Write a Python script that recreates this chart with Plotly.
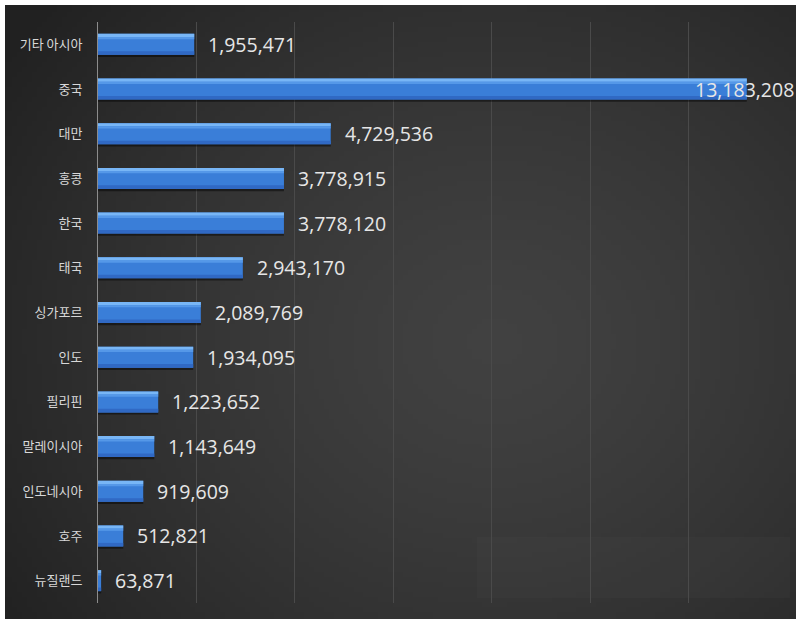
import base64, struct, zlib, math
import plotly.graph_objects as go

categories = ["기타 아시아", "중국", "대만", "홍콩", "한국", "태국", "싱가포르", "인도",
              "필리핀", "말레이시아", "인도네시아", "호주", "뉴질랜드"]
values = [1955471, 13183208, 4729536, 3778915, 3778120, 2943170, 2089769, 1934095,
          1223652, 1143649, 919609, 512821, 63871]
x_max = 14000000
x_step = 2000000

W, H = 796, 619
ML, MR, MT, MB = 98, 9, 22, 16
PW, PH = W - ML - MR, H - MT - MB


def make_png(w, h):
    rows = []
    for j in range(h):
        row = bytearray([0])
        for i in range(w):
            u = i / (w - 1)
            v = j / (h - 1)
            d = math.sqrt(((u - 0.62) / 0.75) ** 2 + ((v - 0.55) / 0.85) ** 2)
            d = min(d, 1.0)
            c = int(round(0x41 - (0x41 - 0x21) * d ** 1.4))
            row += bytes([c, c, c])
        rows.append(bytes(row))
    raw = b"".join(rows)

    def chunk(t, data):
        c = struct.pack(">I", len(data)) + t + data
        return c + struct.pack(">I", zlib.crc32(t + data) & 0xffffffff)
    png = b"\x89PNG\r\n\x1a\n"
    png += chunk(b"IHDR", struct.pack(">IIBBBBB", w, h, 8, 2, 0, 0, 0))
    png += chunk(b"IDAT", zlib.compress(raw, 9))
    png += chunk(b"IEND", b"")
    return "data:image/png;base64," + base64.b64encode(png).decode()


def px_x(px):
    return (px - ML) / PW


def px_y(py):
    return (H - MB - py) / PH


bw = 0.47
fig = go.Figure()
# shadow
fig.add_trace(go.Bar(y=categories, x=values, orientation="h", width=bw, offset=-bw / 2 + 0.05,
                     marker=dict(color="rgba(0,0,0,0.45)", line=dict(width=0)), hoverinfo="skip"))
# main bar
fig.add_trace(go.Bar(y=categories, x=values, orientation="h", width=bw, offset=-bw / 2,
                     marker=dict(color="#3a7ed8", line=dict(width=0))))
# lower darker band
fig.add_trace(go.Bar(y=categories, x=values, orientation="h", width=0.08, offset=bw / 2 - 0.08,
                     marker=dict(color="#3069c4", line=dict(width=0)), hoverinfo="skip"))
# top highlight
fig.add_trace(go.Bar(y=categories, x=values, orientation="h", width=0.07, offset=-bw / 2,
                     marker=dict(color="#78b6f6", line=dict(width=0)), hoverinfo="skip"))
fig.add_trace(go.Bar(y=categories, x=values, orientation="h", width=0.05, offset=-bw / 2 + 0.07,
                     marker=dict(color="#5598e8", line=dict(width=0)), hoverinfo="skip"))

annotations = []
for c, v in zip(categories, values):
    txt = f"{v:,}"
    if v > x_max * 0.85:
        annotations.append(dict(x=1, xref="paper", y=c, yref="y", text=txt, showarrow=False,
                                xanchor="right", xshift=MR,
                                font=dict(family="Open Sans", size=19.5, color="#e6e6e6")))
    else:
        annotations.append(dict(x=v, xref="x", y=c, yref="y", text=txt, showarrow=False,
                                xanchor="left", xshift=12,
                                font=dict(family="Open Sans", size=19.5, color="#e6e6e6")))

fig.update_layout(
    width=W, height=H,
    margin=dict(l=ML, r=MR, t=MT, b=MB),
    paper_bgcolor="white",
    plot_bgcolor="rgba(0,0,0,0)",
    barmode="overlay",
    showlegend=False,
    annotations=annotations,
    images=[dict(source=make_png(160, 124), xref="paper", yref="paper",
                 x=px_x(5), y=px_y(5), sizex=px_x(W) - px_x(5), sizey=px_y(5) - px_y(H),
                 xanchor="left", yanchor="top", sizing="stretch", layer="below")],
    shapes=[dict(type="rect", xref="paper", yref="paper",
                 x0=px_x(477), x1=px_x(790), y0=px_y(598), y1=px_y(537),
                 fillcolor="rgba(255,255,255,0.02)", line=dict(width=0), layer="below")],
    xaxis=dict(range=[0, x_max], dtick=x_step, tick0=0, showgrid=True, gridcolor="#4a4a4a",
               gridwidth=1, zeroline=False, showticklabels=False, showline=False, fixedrange=True),
    yaxis=dict(autorange="reversed", showgrid=False, showline=True, linecolor="#8c8c8c",
               linewidth=1, ticks="", ticklabelstandoff=12,
               tickfont=dict(family="Noto Sans CJK KR", size=13, color="#d8d8d8")),
)

fig.write_html("out.html")
